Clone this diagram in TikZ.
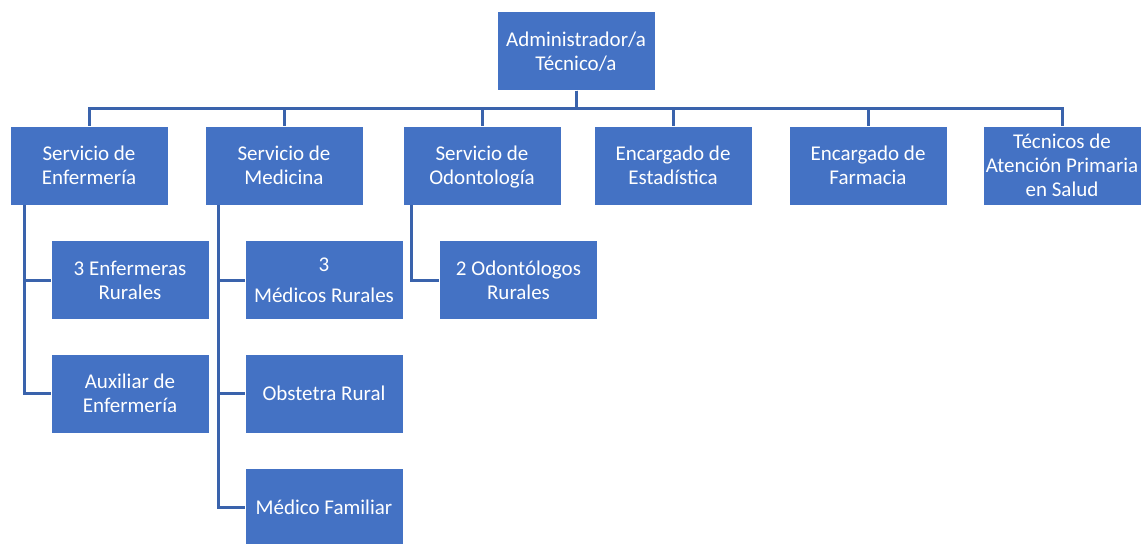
\documentclass[tikz,border=0pt]{standalone}
\usepackage{fontspec}
\setmainfont{Carlito}
\definecolor{boxblue}{HTML}{4472C4}
\definecolor{lineblue}{HTML}{3A63AC}
\tikzset{
  cargo/.style={rectangle, fill=boxblue, draw=white, line width=0.8pt, text=white,
    minimum width=158pt, minimum height=79pt, align=center, inner sep=1pt,
    text depth=0pt, font=\fontsize{21}{24}\selectfont},
  linea/.style={draw=lineblue, line width=3pt}
}
\begin{document}
\begin{tikzpicture}[x=1pt,y=-1pt]
\useasboundingbox (0,0) rectangle (1142,543);

% jefatura
\node[cargo] (admin) at (576,51) {Administrador/a\\Técnico/a};

% servicios
\node[cargo] (enf) at (89,165.5) {Servicio de\\Enfermería};
\node[cargo] (med) at (284,165.5) {Servicio de\\Medicina};
\node[cargo] (odo) at (482,165.5) {Servicio de\\Odontología};
\node[cargo] (est) at (673,165.5) {Encargado de\\Estadística};
\node[cargo] (far) at (868,165.5) {Encargado de\\Farmacia};
\node[cargo] (tec) at (1062,165.5) {Técnicos de\\Atención Primaria\\en Salud};

% personal
\node[cargo] (enf1) at (130,280) {3 Enfermeras\\Rurales};
\node[cargo] (enf2) at (130,393.5) {Auxiliar de\\Enfermería};
\node[cargo] (med1) at (324,280) {3\\[7pt]Médicos Rurales};
\node[cargo] (med2) at (324,393.5) {Obstetra Rural};
\node[cargo] (med3) at (324,507.5) {Médico Familiar};
\node[cargo] (odo1) at (518.5,280) {2 Odontólogos\\Rurales};

\coordinate (bus) at (576,108);
\foreach \n in {enf,med,odo,est,far,tec}
  \draw[linea] (admin.south) |- (bus -| \n.north) -- (\n.north);

\draw[linea] ([xshift=15pt]enf.south west) |- (enf1.west);
\draw[linea] ([xshift=15pt]enf.south west) |- (enf2.west);
\draw[linea] ([xshift=14pt]med.south west) |- (med1.west);
\draw[linea] ([xshift=14pt]med.south west) |- (med2.west);
\draw[linea] ([xshift=14pt]med.south west) |- (med3.west);
\draw[linea] ([xshift=9pt]odo.south west) |- (odo1.west);
\end{tikzpicture}
\end{document}
